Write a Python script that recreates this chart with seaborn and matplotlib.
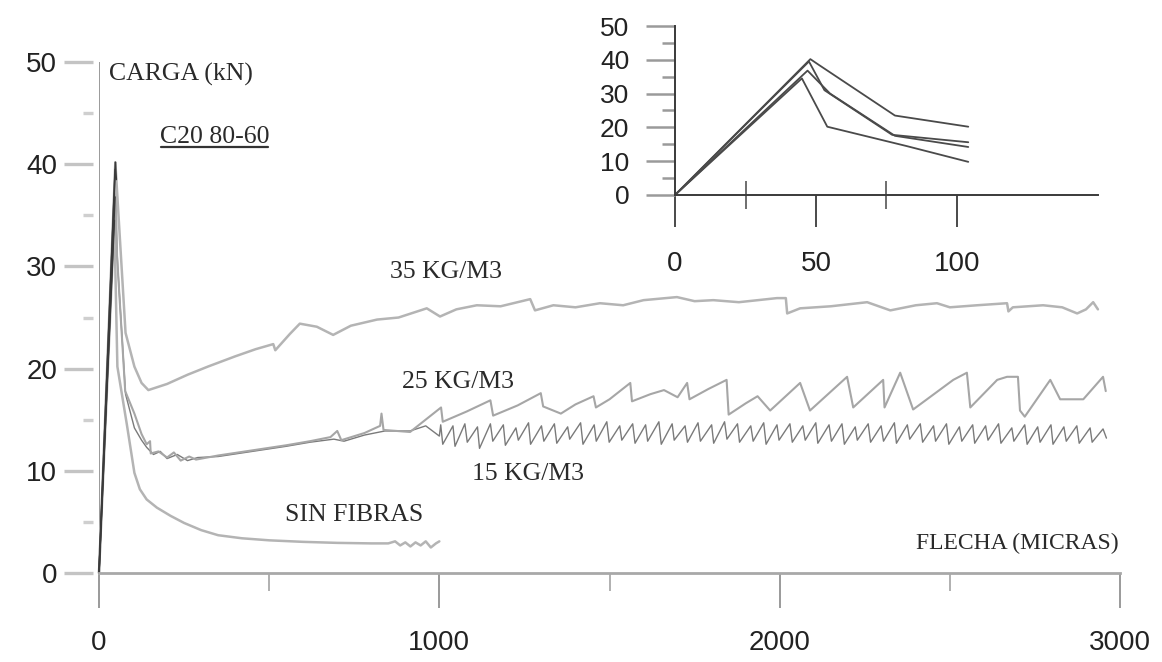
import matplotlib
matplotlib.use("Agg")
import matplotlib.pyplot as plt
from matplotlib.lines import Line2D
from matplotlib.ticker import MultipleLocator, FixedLocator
import pandas as pd
import seaborn as sns

# Load-deflection records: (flecha in micras, carga in kN)
sin_fibras = [
    (0, 0), (45, 34.5), (54, 20.2), (82, 14.5), (104, 9.8), (120, 8.2), (140, 7.2),
    (170, 6.4), (210, 5.6), (250, 4.9), (300, 4.2), (350, 3.7), (420, 3.4), (500, 3.2),
    (600, 3.05), (700, 2.95), (800, 2.9), (850, 2.9), (870, 3.1), (885, 2.7), (900, 3.0),
    (915, 2.6), (930, 3.0), (945, 2.7), (960, 3.1), (975, 2.5), (990, 2.9), (1000, 3.1),
]

fibras_15 = [
    (0, 0), (47, 36.8), (55, 30.0), (78, 17.5), (104, 14.2), (125, 13.0), (140, 12.3),
    (160, 11.6), (180, 11.9), (200, 11.2), (230, 11.6), (260, 11.0), (290, 11.3),
    (350, 11.4), (450, 11.9), (550, 12.4), (620, 12.8), (690, 13.1), (720, 12.9),
    (780, 13.5), (840, 13.9), (914, 13.9), (960, 14.4), (1000, 13.4), (1004, 14.5),
    (1010, 12.6), (1040, 14.4), (1046, 12.4), (1075, 14.6), (1082, 12.8), (1112, 14.3),
    (1118, 12.2), (1150, 14.6), (1157, 12.9), (1188, 14.5), (1194, 12.5), (1225, 14.2),
    (1232, 13.0), (1262, 14.7), (1268, 12.6), (1300, 14.4), (1307, 12.9), (1338, 14.6),
    (1345, 12.7), (1377, 14.3), (1383, 13.1), (1415, 14.7), (1422, 12.6), (1455, 14.5),
    (1461, 12.9), (1492, 14.8), (1499, 12.8), (1530, 14.4), (1536, 13.0), (1568, 14.6),
    (1575, 12.7), (1606, 14.5), (1612, 12.9), (1645, 14.8), (1652, 12.6), (1684, 14.6),
    (1690, 13.0), (1722, 14.4), (1729, 12.8), (1760, 14.7), (1767, 12.9), (1800, 14.5),
    (1806, 12.7), (1838, 14.8), (1845, 13.1), (1876, 14.6), (1882, 12.8), (1915, 14.4),
    (1922, 12.9), (1953, 14.7), (1960, 12.6), (1992, 14.5), (1998, 13.0), (2030, 14.6),
    (2037, 12.8), (2068, 14.4), (2075, 13.0), (2106, 14.7), (2112, 12.7), (2145, 14.5),
    (2152, 12.9), (2183, 14.6), (2190, 12.6), (2222, 14.3), (2228, 13.0), (2260, 14.6),
    (2267, 12.8), (2298, 14.4), (2305, 12.9), (2337, 14.7), (2343, 12.7), (2375, 14.5),
    (2382, 13.1), (2413, 14.6), (2420, 12.8), (2452, 14.4), (2458, 12.9), (2490, 14.6),
    (2497, 12.6), (2528, 14.3), (2535, 12.9), (2567, 14.5), (2573, 12.7), (2605, 14.4),
    (2612, 13.0), (2643, 14.6), (2650, 12.7), (2682, 14.2), (2688, 12.9), (2720, 14.5),
    (2727, 12.6), (2758, 14.3), (2765, 12.8), (2797, 14.5), (2803, 12.6), (2835, 14.3),
    (2842, 12.9), (2873, 14.4), (2880, 12.7), (2912, 14.2), (2918, 12.8), (2950, 14.1),
    (2960, 13.2),
]

fibras_25 = [
    (0, 0), (47.5, 39.5), (53, 31.0), (77, 17.8), (104, 15.6), (125, 13.6), (140, 12.6),
    (150, 12.9), (152, 11.7), (175, 11.9), (200, 11.3), (220, 11.8), (240, 11.0),
    (265, 11.4), (285, 11.1), (350, 11.5), (450, 12.0), (550, 12.5), (620, 12.9),
    (680, 13.3), (700, 13.9), (712, 13.0), (780, 13.7), (826, 14.4), (830, 15.6),
    (836, 14.0), (914, 13.8), (1005, 16.2), (1010, 14.8), (1080, 15.8), (1150, 16.9),
    (1158, 15.4), (1230, 16.4), (1298, 17.6), (1305, 16.3), (1357, 15.6), (1400, 16.5),
    (1453, 17.3), (1460, 16.2), (1500, 17.0), (1561, 18.6), (1566, 16.8), (1620, 17.5),
    (1660, 17.9), (1700, 17.2), (1728, 18.6), (1735, 17.0), (1790, 18.0), (1844, 18.9),
    (1850, 15.5), (1900, 16.6), (1935, 17.3), (1972, 15.9), (2060, 18.6), (2089, 15.9),
    (2198, 19.2), (2216, 16.2), (2304, 18.9), (2308, 16.2), (2354, 19.6), (2392, 16.0),
    (2510, 18.9), (2550, 19.6), (2560, 16.2), (2639, 18.9), (2668, 19.2), (2700, 19.2),
    (2706, 15.9), (2720, 15.3), (2795, 18.9), (2824, 17.0), (2892, 17.0), (2950, 19.2),
    (2958, 17.8),
]

fibras_35 = [
    (0, 0), (48, 40.2), (51, 38.5), (78, 23.5), (104, 20.2), (125, 18.6), (145, 17.9),
    (200, 18.5), (260, 19.4), (320, 20.2), (400, 21.2), (460, 21.9), (512, 22.4),
    (518, 21.8), (561, 23.4), (590, 24.4), (640, 24.1), (688, 23.3), (740, 24.2),
    (817, 24.8), (880, 25.0), (963, 25.9), (1002, 25.1), (1050, 25.8), (1110, 26.2),
    (1180, 26.1), (1267, 26.8), (1281, 25.7), (1335, 26.2), (1400, 26.0), (1472, 26.4),
    (1540, 26.2), (1600, 26.7), (1698, 27.0), (1750, 26.6), (1805, 26.7), (1880, 26.5),
    (1992, 26.9), (2018, 26.9), (2022, 25.4), (2060, 25.9), (2150, 26.1), (2257, 26.5),
    (2325, 25.7), (2400, 26.2), (2462, 26.4), (2500, 26.0), (2580, 26.2), (2668, 26.4),
    (2672, 25.6), (2685, 26.0), (2774, 26.2), (2830, 26.0), (2874, 25.4), (2900, 25.8),
    (2921, 26.5), (2935, 25.8),
]

series_names = ["SIN FIBRAS", "15 KG/M3", "25 KG/M3", "35 KG/M3"]
series_data = [sin_fibras, fibras_15, fibras_25, fibras_35]
series_colors = ["#b4b4b4", "#7a7a7a", "#a6a6a6", "#b4b4b4"]
series_widths = [1.8, 1.0, 1.5, 1.8]

x_major = [0, 1000, 2000, 3000]
x_minor = [500, 1500, 2500]
inset_x_major = [0, 50, 100]
inset_x_minor = [25, 75]

rows = []
for name, pts in zip(series_names, series_data):
    for order, (fx, fy) in enumerate(pts):
        rows.append({"serie": name, "orden": order, "flecha": fx, "carga": fy})
df = pd.DataFrame(rows)

sns.set_style("white")
plt.rcParams["font.family"] = ["Liberation Sans", "DejaVu Sans"]

fig = plt.figure(figsize=(11.62, 6.62), dpi=100)
ax = fig.add_axes([0.0852, 0.1344, 0.8787, 0.7719])

# full records, light grey
for name, col, lw in zip(series_names, series_colors, series_widths):
    sub = df[df["serie"] == name]
    sns.lineplot(data=sub, x="flecha", y="carga", sort=False, estimator=None,
                 color=col, lw=lw, ax=ax, legend=False, clip_on=False)

# elastic branch up to the peak drawn darker
peak = df[df["flecha"] <= 52]
for name in series_names:
    sub = peak[peak["serie"] == name]
    sns.lineplot(data=sub, x="flecha", y="carga", sort=False, estimator=None,
                 color="#3a3a3a", lw=1.1, ax=ax, legend=False, clip_on=False)

ax.set_xlim(0, 3000)
ax.set_ylim(0, 50)
ax.set_xlabel("")
ax.set_ylabel("")
ax.xaxis.set_major_locator(FixedLocator(x_major))
ax.xaxis.set_minor_locator(FixedLocator(x_minor))
ax.yaxis.set_major_locator(MultipleLocator(10))
ax.yaxis.set_minor_locator(MultipleLocator(5))
for s in ["top", "right"]:
    ax.spines[s].set_visible(False)
ax.spines["left"].set_position(("outward", 4))
ax.spines["left"].set_visible(False)
ax.spines["bottom"].set_color("#a8a8a8")
ax.spines["bottom"].set_linewidth(2.0)
ax.axvline(0, color="#9a9a9a", lw=1.4, zorder=1)

ax.tick_params(axis="y", which="both", left=True, right=False)
ax.tick_params(axis="x", which="both", bottom=True, top=False)
ax.tick_params(axis="y", which="major", direction="out", length=21, width=2.4,
               color="#c4c4c4", pad=5, labelsize=20, labelcolor="#222222")
ax.tick_params(axis="y", which="minor", direction="out", length=7, width=2.4,
               color="#cfcfcf")
ax.tick_params(axis="x", which="major", direction="out", length=25, width=1.4,
               color="#9a9a9a", pad=16, labelsize=20, labelcolor="#222222")
ax.tick_params(axis="x", which="minor", direction="out", length=13, width=1.4,
               color="#b0b0b0")

serif = ["Liberation Serif", "DejaVu Serif"]
tc = "#2a2a2a"
ax.text(30, 48.8, "CARGA (kN)", family=serif, fontsize=18.5, color=tc, va="center")
t_code = ax.text(179, 42.7, "C20 80-60", family=serif, fontsize=18.5, color=tc, va="center")
ax.text(855, 29.5, "35 KG/M3", family=serif, fontsize=18.5, color=tc, va="center")
ax.text(890, 18.7, "25 KG/M3", family=serif, fontsize=18.5, color=tc, va="center")
ax.text(1096, 9.7, "15 KG/M3", family=serif, fontsize=18.5, color=tc, va="center")
ax.text(547, 5.7, "SIN FIBRAS", family=serif, fontsize=18.5, color=tc, va="center")
ax.text(2995, 2.9, "FLECHA (MICRAS)", family=serif, fontsize=17, color=tc,
        va="center", ha="right")

# inset: first 100 micras
ins = fig.add_axes([0.5809, 0.7055, 0.364, 0.2552])
ins.patch.set_alpha(0)
early = df[df["flecha"] <= 104]
for name in series_names:
    sub = early[early["serie"] == name]
    sns.lineplot(data=sub, x="flecha", y="carga", sort=False, estimator=None,
                 color="#4a4a4a", lw=1.3, ax=ins, legend=False)
ins.set_xlim(0, 150)
ins.set_ylim(0, 50)
ins.set_xlabel("")
ins.set_ylabel("")
ins.xaxis.set_major_locator(FixedLocator(inset_x_major))
ins.xaxis.set_minor_locator(FixedLocator(inset_x_minor))
ins.yaxis.set_major_locator(MultipleLocator(10))
ins.yaxis.set_minor_locator(MultipleLocator(5))
for s in ["top", "right"]:
    ins.spines[s].set_visible(False)
for s in ["left", "bottom"]:
    ins.spines[s].set_color("#3a3a3a")
    ins.spines[s].set_linewidth(1.4)
ins.tick_params(axis="y", which="both", left=True, right=False)
ins.tick_params(axis="x", which="both", bottom=True, top=False)
ins.tick_params(axis="y", which="major", direction="out", length=21, width=1.8,
                color="#9a9a9a", pad=12, labelsize=19, labelcolor="#222222")
ins.tick_params(axis="y", which="minor", direction="out", length=9.5, width=1.8,
                color="#9a9a9a")
ins.tick_params(axis="x", which="major", direction="out", length=23, width=1.3,
                color="#3a3a3a", pad=17, labelsize=20, labelcolor="#222222")
ins.tick_params(axis="x", which="minor", direction="inout", length=20, width=1.2,
                color="#555555")

# underline under the specimen code
fig.canvas.draw()
bb = t_code.get_window_extent()
fig.add_artist(Line2D([bb.x0 + 1, bb.x1 - 1], [bb.y0 + 1, bb.y0 + 1],
                      transform=None, color="#333333", lw=1.6))

fig.savefig("out.png", dpi=100, facecolor="white")
